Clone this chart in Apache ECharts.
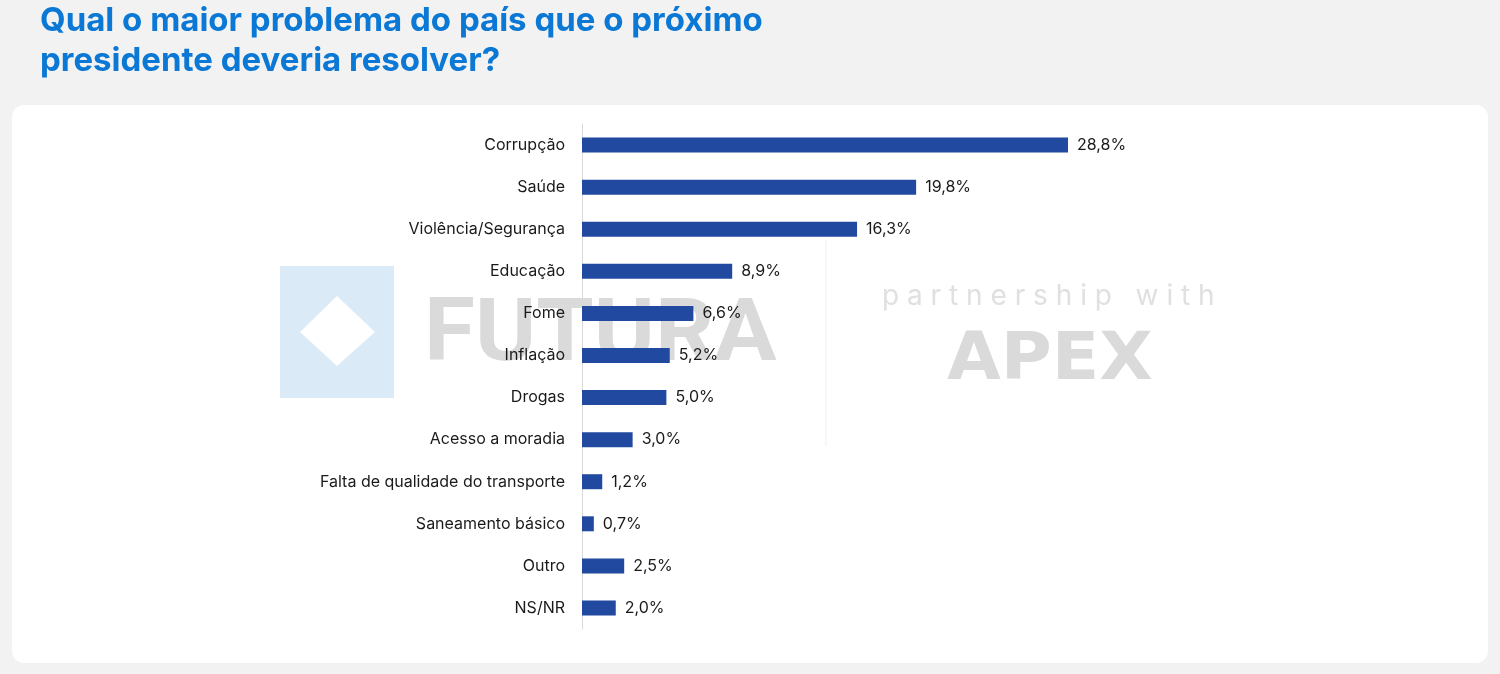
<!DOCTYPE html>
<html>
<head>
<meta charset="utf-8">
<script src="https://cdn.jsdelivr.net/npm/echarts@6/dist/echarts.min.js"></script>
<style>
  html, body { margin: 0; padding: 0; background: #f2f2f2; }
  #chart { width: 1500px; height: 674px; }
</style>
</head>
<body>
<div id="chart"></div>
<script>
var categories = ['Corrupção', 'Saúde', 'Violência/Segurança', 'Educação', 'Fome', 'Inflação',
  'Drogas', 'Acesso a moradia', 'Falta de qualidade do transporte', 'Saneamento básico', 'Outro', 'NS/NR'];
var values = [28.8, 19.8, 16.3, 8.9, 6.6, 5.2, 5.0, 3.0, 1.2, 0.7, 2.5, 2.0];

var chart = echarts.init(document.getElementById('chart'));

var font = 'Inter, Roboto, sans-serif';

chart.setOption({
  backgroundColor: '#f2f2f2',
  animation: false,
  graphic: [
    // white panel
    { type: 'rect', z: -10, shape: { x: 12, y: 105, width: 1476, height: 558, r: 12 },
      style: { fill: '#ffffff' } },
    // title
    { type: 'text', left: 40, top: 1, z: 10,
      style: { text: 'Qual o maior problema do país que o próximo\npresidente deveria resolver?',
        font: 'bold 33px ' + font, fill: '#0a78d4', lineHeight: 40 } },
    // watermark (behind the bars)
    { type: 'rect', z: -5, shape: { x: 280, y: 266, width: 114, height: 132 },
      style: { fill: '#dbeaf7' } },
    { type: 'polygon', z: -4, shape: { points: [[337, 296], [375, 332], [337, 366], [300, 332]] },
      style: { fill: '#ffffff' } },
    { type: 'text', z: -5, x: 424, y: 294, scaleX: 1.055,
      style: { text: 'FUTURA', font: 'bold 88px Roboto, sans-serif', fill: '#dadada',
        verticalAlign: 'top' } },
    { type: 'line', z: -5, shape: { x1: 826, y1: 240, x2: 826, y2: 446 },
      style: { stroke: '#efefef', lineWidth: 1 } },
    { type: 'text', z: -5, x: 882, y: 283,
      style: { text: 'p a r t n e r s h i p   w i t h', font: '28px ' + font, fill: '#e0e0e0',
        verticalAlign: 'top' } },
    { type: 'text', z: -5, x: 947, y: 330, scaleX: 1.07,
      style: { text: 'APEX', font: 'bold 65px "DejaVu Sans", sans-serif', fill: '#dadada',
        verticalAlign: 'top' } }
  ],
  grid: { left: 582, top: 124, width: 843.75, height: 505 },
  xAxis: {
    type: 'value', min: 0, max: 50,
    show: false
  },
  yAxis: {
    type: 'category', data: categories, inverse: true,
    axisLine: { show: true, lineStyle: { color: '#d9d9d9', width: 1 } },
    axisTick: { show: false },
    axisLabel: { color: '#1a1a1a', fontSize: 16, fontFamily: font, margin: 17 }
  },
  series: [{
    type: 'bar', data: values, barWidth: 15,
    itemStyle: { color: '#2149a0' },
    label: {
      show: true, position: 'right', distance: 9,
      color: '#1a1a1a', fontSize: 16, fontFamily: font,
      formatter: function (p) { return p.value.toFixed(1).replace('.', ',') + '%'; }
    }
  }]
});
</script>
</body>
</html>
